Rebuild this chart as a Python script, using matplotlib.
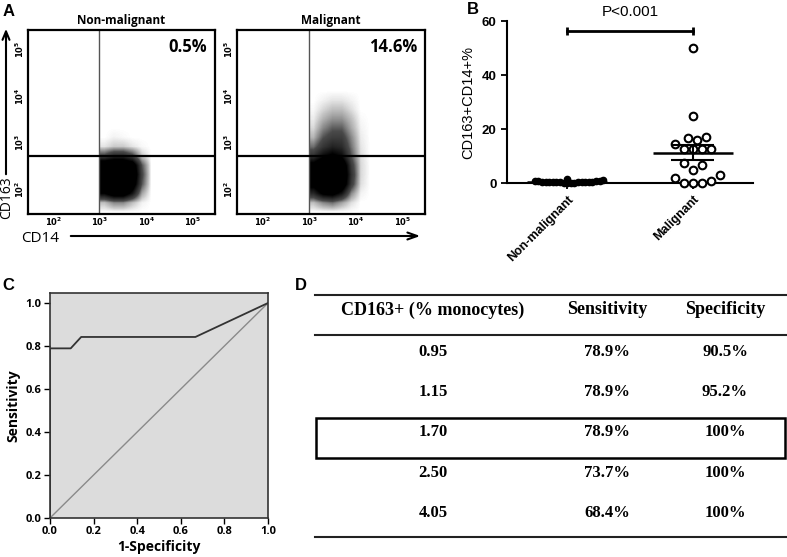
import numpy as np
import matplotlib
matplotlib.use('Agg')
import matplotlib.pyplot as plt
from matplotlib.colors import LinearSegmentedColormap
from matplotlib.patches import FancyArrowPatch, Rectangle

# ---- data ----
# panel A: flow cytometry density (log10 CD14 columns, log10 CD163 rows, top row first)
nonmal_x = [3.1, 3.3, 3.5, 3.7, 3.9, 4.1]
nonmal_y = [3.3, 3.1, 2.9, 2.7, 2.5, 2.3, 2.1, 1.9, 1.7, 1.5]
nonmal_density = [
    [0.00, 0.00, 0.00, 0.00, 0.00, 0.00],
    [0.00, 0.02, 0.01, 0.00, 0.00, 0.00],
    [0.04, 0.08, 0.08, 0.04, 0.01, 0.00],
    [0.35, 0.50, 0.50, 0.35, 0.08, 0.00],
    [1.00, 1.00, 1.00, 0.90, 0.30, 0.00],
    [1.00, 1.00, 1.00, 1.00, 0.35, 0.00],
    [1.00, 1.00, 1.00, 0.90, 0.30, 0.00],
    [0.70, 0.90, 0.90, 0.60, 0.15, 0.00],
    [0.10, 0.20, 0.20, 0.10, 0.02, 0.00],
    [0.00, 0.00, 0.00, 0.00, 0.00, 0.00],
]
mal_x = [3.1, 3.3, 3.5, 3.7, 3.9, 4.1, 4.3]
mal_y = [4.1, 3.9, 3.7, 3.5, 3.3, 3.1, 2.9, 2.7, 2.5, 2.3, 2.1, 1.9, 1.7, 1.5]
mal_density = [
    [0.00, 0.00, 0.00, 0.00, 0.00, 0.00, 0.00],
    [0.00, 0.02, 0.04, 0.04, 0.02, 0.00, 0.00],
    [0.01, 0.06, 0.10, 0.10, 0.05, 0.00, 0.00],
    [0.03, 0.12, 0.18, 0.18, 0.10, 0.01, 0.00],
    [0.06, 0.20, 0.28, 0.28, 0.14, 0.02, 0.00],
    [0.12, 0.30, 0.38, 0.38, 0.20, 0.03, 0.00],
    [0.25, 0.42, 0.52, 0.48, 0.24, 0.04, 0.00],
    [0.45, 0.65, 0.75, 0.65, 0.30, 0.05, 0.00],
    [0.80, 1.00, 1.00, 0.95, 0.40, 0.06, 0.00],
    [0.90, 1.00, 1.00, 1.00, 0.45, 0.06, 0.00],
    [0.80, 1.00, 1.00, 0.95, 0.40, 0.05, 0.00],
    [0.50, 0.75, 0.80, 0.60, 0.20, 0.02, 0.00],
    [0.10, 0.20, 0.25, 0.15, 0.05, 0.00, 0.00],
    [0.00, 0.00, 0.00, 0.00, 0.00, 0.00, 0.00],
]
flow_titles = ['Non-malignant', 'Malignant']
flow_pcts = ['0.5%', '14.6%']
gate_cd14 = 2.98
gate_cd163 = 2.71

# panel B: CD163+CD14+ % per patient
groups = ['Non-malignant', 'Malignant']
nonmal_vals = [0.05, 0.1, 0.1, 0.15, 0.2, 0.2, 0.25, 0.3, 0.3, 0.35, 0.4,
               0.4, 0.45, 0.5, 0.55, 0.6, 0.7, 0.8, 0.9, 1.0, 1.5]
mal_vals = [50, 25, 17.2, 16.8, 15.8, 14.5, 12.7, 12.7, 12.7, 12.7,
            7.4, 6.8, 4.9, 2.8, 1.8, 0.6, 0, 0, 0]
p_text = 'P<0.001'

# panel C: ROC curve
fpr = [0.0, 0.0, 0.095, 0.143, 0.667, 1.0]
tpr = [0.0, 0.789, 0.789, 0.842, 0.842, 1.0]

# panel D: cut-off table
table_header = ['CD163+ (% monocytes)', 'Sensitivity', 'Specificity']
cutoffs = ['0.95', '1.15', '1.70', '2.50', '4.05']
sensitivity = ['78.9%', '78.9%', '78.9%', '73.7%', '68.4%']
specificity = ['90.5%', '95.2%', '100%', '100%', '100%']
boxed_row = 2

# ---- layout helpers ----
W, H = 787, 557


def rect(x0, y0, x1, y1):
    return [x0 / W, 1 - y1 / H, (x1 - x0) / W, (y1 - y0) / H]


def fx(x):
    return x / W


def fy(y):
    return 1 - y / H


def swarm_offsets(values, diam_px, x_scale, y_scale):
    values = np.asarray(values, dtype=float)
    order = np.argsort(values)
    placed = []
    offsets = np.zeros(len(values))
    for i in order:
        y = values[i] * y_scale
        k = 0
        while True:
            step = ((k + 1) // 2) * (1 if k % 2 else -1)
            x = step * diam_px * 0.5
            if all((x - px) ** 2 + (y - py) ** 2 >= diam_px ** 2 for px, py in placed):
                break
            k += 1
        placed.append((x, y))
        offsets[i] = x / x_scale
    return offsets


fig = plt.figure(figsize=(W / 100, H / 100), dpi=100)

# ---- panel A ----
cmap = LinearSegmentedColormap.from_list(
    'flow', [(0, 'white'), (0.12, '#c8c8c8'), (0.45, '#4a4a4a'), (1, 'black')])
flow_rects = [rect(28, 30, 215, 214), rect(237, 30, 425, 214)]
flow_data = [(nonmal_x, nonmal_y, nonmal_density), (mal_x, mal_y, mal_density)]
for r, (xs, ys, dens), title, pct in zip(flow_rects, flow_data, flow_titles, flow_pcts):
    ax = fig.add_axes(r)
    dx = (xs[1] - xs[0]) / 2
    dy = (ys[0] - ys[1]) / 2
    ax.imshow(np.array(dens), extent=[xs[0] - dx, xs[-1] + dx, ys[-1] - dy, ys[0] + dy],
              cmap=cmap, vmin=0, vmax=0.7, interpolation='bilinear', aspect='auto')
    ax.set_xlim(1.45, 5.47)
    ax.set_ylim(1.46, 5.42)
    ax.axvline(gate_cd14, color='#555555', lw=1.0)
    ax.axhline(gate_cd163, color='black', lw=1.6)
    ticks = [2, 3, 4, 5]
    labels = [r'$\mathbf{10^{%d}}$' % t for t in ticks]
    ax.set_xticks(ticks)
    ax.set_xticklabels(labels, fontsize=6)
    ax.set_yticks(ticks)
    ax.set_yticklabels(labels, fontsize=6, rotation=90, va='center')
    ax.tick_params(length=0, pad=1.5)
    for s in ax.spines.values():
        s.set_linewidth(1.6)
    ax.set_title(title, fontsize=8.5, fontweight='bold', family='Open Sans', pad=4)
    ax.text(0.957, 0.905, pct, transform=ax.transAxes, ha='right', va='center',
            fontsize=12, fontweight='bold', family='Open Sans')

fig.add_artist(FancyArrowPatch((fx(6), fy(177)), (fx(6), fy(26)), transform=fig.transFigure,
                               arrowstyle='->,head_length=6,head_width=2.5', lw=1.5, color='black'))
fig.add_artist(FancyArrowPatch((fx(68), fy(236)), (fx(423), fy(236)), transform=fig.transFigure,
                               arrowstyle='->,head_length=7,head_width=2.5', lw=1.5, color='black'))
fig.text(fx(7), fy(198), 'CD163', rotation=90, ha='center', va='center', fontsize=10,
         family='Open Sans')
fig.text(fx(40), fy(238), 'CD14', ha='center', va='center', fontsize=11, family='Open Sans')

# ---- panel B ----
axb = fig.add_axes(rect(507, 21, 753, 183))
x_scale = 246 / 1.96
y_scale = 162 / 60
for i, (vals, filled) in enumerate([(nonmal_vals, True), (mal_vals, False)]):
    diam = 3.6 if filled else 9.0
    xs = i + swarm_offsets(vals, diam, x_scale, y_scale)
    if filled:
        axb.plot(xs, vals, 'o', ms=4.5, mfc='black', mec='black', clip_on=False, zorder=3)
    else:
        axb.plot(xs, vals, 'o', ms=5.5, mfc='white', mec='black', mew=1.5, clip_on=False, zorder=3)
    m = np.mean(vals)
    sem = np.std(vals, ddof=1) / np.sqrt(len(vals))
    axb.hlines(m, i - 0.32, i + 0.32, color='black', lw=1.8, zorder=4)
    axb.vlines(i, m - sem, m + sem, color='black', lw=1.5, zorder=4)
    axb.hlines([m - sem, m + sem], i - 0.17, i + 0.17, color='black', lw=1.5, zorder=4)

axb.set_xlim(-0.48, 1.48)
axb.set_ylim(0, 60)
axb.spines['top'].set_visible(False)
axb.spines['right'].set_visible(False)
axb.spines['left'].set_linewidth(1.5)
axb.spines['bottom'].set_linewidth(1.5)
axb.set_yticks([0, 20, 40, 60])
axb.set_yticklabels(['0', '20', '40', '60'], fontsize=9.5, fontweight='bold', family='Liberation Sans')
axb.set_xticks([0, 1])
axb.set_xticklabels(groups, rotation=45, ha='right', rotation_mode='anchor',
                    fontsize=9, fontweight='bold', family='Liberation Sans')
axb.tick_params(length=4, width=1.3)
axb.set_ylabel('CD163+CD14+%', fontsize=10.5, family='Liberation Sans', labelpad=5)
bracket_y = 56.4
axb.plot([0, 1], [bracket_y, bracket_y], color='black', lw=2, clip_on=False)
axb.vlines([0, 1], bracket_y - 1.4, bracket_y + 1.4, color='black', lw=2, clip_on=False)
axb.text(0.5, 63.4, p_text, ha='center', va='center', fontsize=11, family='Liberation Sans')

# ---- panel C ----
axc = fig.add_axes(rect(50, 293, 268, 518))
axc.set_facecolor('#dcdcdc')
axc.plot([0, 1], [0, 1], color='#8a8a8a', lw=1.0)
axc.plot(fpr, tpr, color='#333333', lw=1.3)
axc.set_xlim(0, 1)
axc.set_ylim(0, 1.0465)
axc.set_xticks(np.arange(0, 1.01, 0.2))
axc.set_yticks(np.arange(0, 1.01, 0.2))
axc.set_xticklabels(['%.1f' % t for t in np.arange(0, 1.01, 0.2)], fontsize=8, fontweight='bold', family='Open Sans')
axc.set_yticklabels(['%.1f' % t for t in np.arange(0, 1.01, 0.2)], fontsize=8, fontweight='bold', family='Open Sans')
axc.tick_params(length=4, width=1.0, pad=2)
for s in axc.spines.values():
    s.set_linewidth(1.2)
    s.set_color('#333333')
axc.set_xlabel('1-Specificity', fontsize=10, fontweight='bold', family='Open Sans', labelpad=2)
axc.set_ylabel('Sensitivity', fontsize=10, fontweight='bold', family='Open Sans', labelpad=4)

# ---- panel D ----
axd = fig.add_axes(rect(300, 290, 787, 557))
axd.set_xlim(300, 787)
axd.set_ylim(557, 290)
axd.axis('off')
col_x = [433, 607, 725]
row_y0, row_step = 352, 40.25
for xv, label in zip(col_x, table_header):
    axd.text(xv, 310, label, ha='center', va='center', fontsize=13, fontweight='bold',
             family='Liberation Serif')
for i, row in enumerate(zip(cutoffs, sensitivity, specificity)):
    for xv, val in zip(col_x, row):
        axd.text(xv, row_y0 + i * row_step, val, ha='center', va='center', fontsize=12,
                 fontweight='bold', family='Liberation Serif')
for yv in [295, 335, 537]:
    axd.plot([315, 786], [yv, yv], color='#222222', lw=1.5)
by = row_y0 + boxed_row * row_step
axd.add_patch(Rectangle((316, by - 15), 469, 40, fill=False, ec='black', lw=1.8))

# ---- panel letters ----
for (x, y), letter in zip([(9, 11), (473, 10), (8, 286), (301, 286)], 'ABCD'):
    fig.text(fx(x), fy(y), letter, ha='center', va='center', fontsize=12,
             fontweight='bold', family='Liberation Sans')

fig.savefig('out.png', dpi=100)
